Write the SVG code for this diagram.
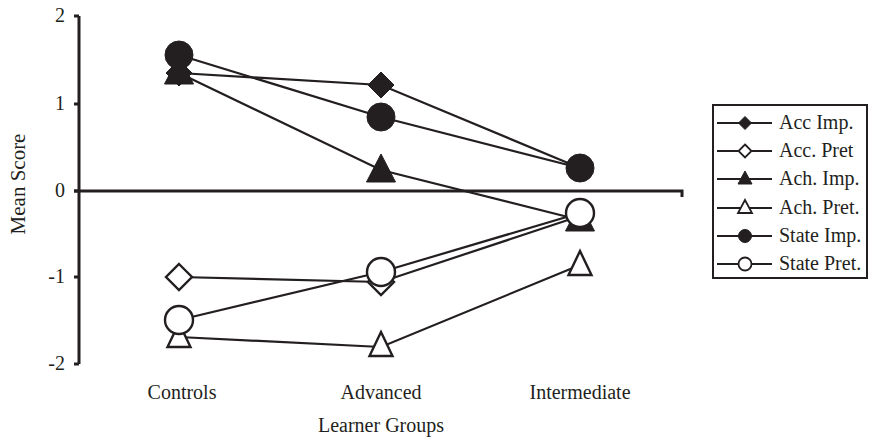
<svg xmlns="http://www.w3.org/2000/svg" width="873" height="441" viewBox="0 0 873 441">
<style>
text{font-family:"Liberation Serif","Times New Roman",serif;fill:#231f20;font-size:20px}
.ax{stroke:#231f20;stroke-width:3;fill:none}
.ln{stroke:#231f20;stroke-width:2.2;fill:none}
.f{fill:#231f20;stroke:#231f20;stroke-width:1}
.o{fill:#fff;stroke:#231f20;stroke-width:2.4}
</style>
<defs>
<polygon id="dB" points="0,-13 13,0 0,13 -13,0"/>
<polygon id="tB" points="0,-18 14.5,10 -14.5,10"/>
<polygon id="tO" points="0,-14 11.5,10 -11.5,10"/>
<circle id="cB" r="14"/>
<polygon id="dS" points="0,-6.5 6.5,0 0,6.5 -6.5,0"/>
<polygon id="tS" points="0,-8 7,5 -7,5"/>
<circle id="cS" r="6.5"/>
</defs>
<g id="axes">
<path class="ax" d="M79,16 V364 M74,16 H79 M74,104 H79 M74,191 H79 M74,277 H79 M74,364 H79"/>
<path class="ax" d="M74,191 H682 V197"/>
<text x="65" y="22" text-anchor="end">2</text>
<text x="65" y="110" text-anchor="end">1</text>
<text x="65" y="197" text-anchor="end">0</text>
<text x="65" y="283" text-anchor="end">-1</text>
<text x="65" y="370" text-anchor="end">-2</text>
<text transform="translate(25,184) rotate(-90)" text-anchor="middle" style="font-size:21px">Mean Score</text>
<text x="182" y="399" text-anchor="middle">Controls</text>
<text x="381" y="399" text-anchor="middle">Advanced</text>
<text x="580" y="399" text-anchor="middle">Intermediate</text>
<text x="381" y="432" text-anchor="middle">Learner Groups</text>
</g>
<g id="connectors">
<polyline class="ln" points="179,73 381,85 580,168"/>
<polyline class="ln" points="179,277 381,282 580,216"/>
<polyline class="ln" points="179,73 381,170 580,220"/>
<polyline class="ln" points="179,337 381,347 580,265"/>
<polyline class="ln" points="179,55 381,117 580,168"/>
<polyline class="ln" points="179,320 381,272 580,213"/>
</g>
<g id="acc-imp" class="f">
<use href="#dB" x="179" y="73"/><use href="#dB" x="381" y="85"/><use href="#dB" x="580" y="168"/>
</g>
<g id="acc-pret" class="o">
<use href="#dB" x="179" y="277"/><use href="#dB" x="381" y="282"/><use href="#dB" x="580" y="216"/>
</g>
<g id="ach-imp" class="f">
<use href="#tB" x="179" y="74"/><use href="#tB" x="381" y="172"/><use href="#tB" x="580" y="221"/>
</g>
<g id="ach-pret" class="o">
<use href="#tO" x="179" y="337"/><use href="#tO" x="381" y="346"/><use href="#tO" x="580" y="265"/>
</g>
<g id="state-imp" class="f">
<use href="#cB" x="179" y="55"/><use href="#cB" x="381" y="117"/><use href="#cB" x="580" y="168"/>
</g>
<g id="state-pret" class="o">
<use href="#cB" x="179" y="320"/><use href="#cB" x="381" y="272"/><use href="#cB" x="580" y="213"/>
</g>
<g id="legend">
<rect x="713" y="105" width="154" height="173" fill="#fff" stroke="#231f20" stroke-width="2"/>
<path class="ln" d="M717,123 H772 M717,151 H772 M717,179 H772 M717,208 H772 M717,236 H772 M717,264 H772"/>
<use href="#dS" x="745" y="123" class="f"/>
<use href="#dS" x="745" y="151" class="o" style="stroke-width:1.8"/>
<use href="#tS" x="745" y="179" class="f"/>
<use href="#tS" x="745" y="208" class="o" style="stroke-width:1.8"/>
<use href="#cS" x="745" y="236" class="f"/>
<use href="#cS" x="745" y="264" class="o" style="stroke-width:1.8"/>
<text x="779" y="129">Acc Imp.</text>
<text x="779" y="157">Acc. Pret</text>
<text x="779" y="185">Ach. Imp.</text>
<text x="779" y="214">Ach. Pret.</text>
<text x="779" y="242">State Imp.</text>
<text x="779" y="270">State Pret.</text>
</g>
</svg>
